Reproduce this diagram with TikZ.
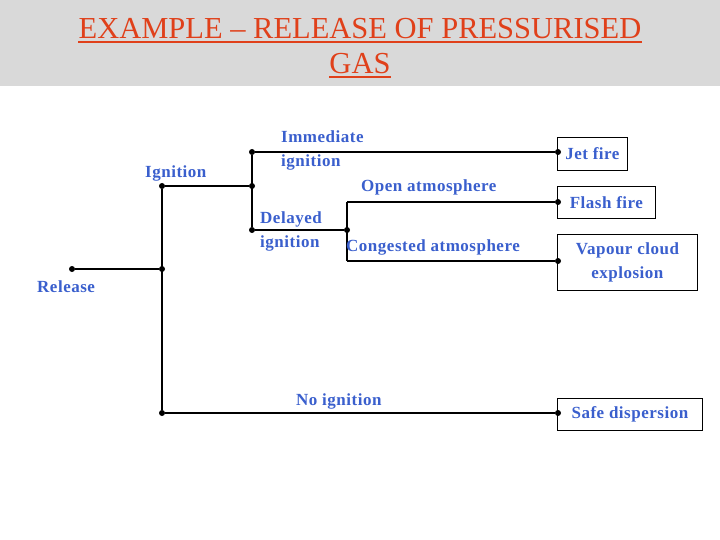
\documentclass[tikz,border=0pt]{standalone}
\usepackage{fontspec}
\setmainfont{Liberation Serif}[LetterSpace=3]
\definecolor{lab}{HTML}{3A5FCD}
\definecolor{ttl}{HTML}{E0401A}
\begin{document}
\begin{tikzpicture}[x=1pt,y=-1pt,
  ln/.style={line width=1.5pt},
  dot/.style={circle,fill=black,inner sep=0pt,minimum size=6pt},
  ttlsty/.style={text=ttl,font=\addfontfeature{LetterSpace=0}\fontsize{30.5}{35}\selectfont,inner sep=0pt,anchor=base},
  lbl/.style={text=lab,font=\fontsize{17}{24}\selectfont\bfseries,align=left,inner sep=0pt},
  ob/.style={draw,line width=0.8pt,text=lab,font=\fontsize{17}{24}\selectfont\bfseries,align=center,anchor=north west,inner sep=0pt}]
\useasboundingbox (0,0) rectangle (720,540);
\fill[gray!30] (0,0) rectangle (720,86);
\node[ttlsty] (t1) at (360,39) {EXAMPLE – RELEASE OF PRESSURISED};
\node[ttlsty] (t2) at (360,74) {GAS};
\draw[ttl,line width=1.2pt] ([yshift=-3pt]t1.base west) -- ([yshift=-3pt]t1.base east);
\draw[ttl,line width=1.2pt] ([yshift=-3pt]t2.base west) -- ([yshift=-3pt]t2.base east);
% boxes
\node[ob,minimum width=70pt,minimum height=33pt] (jet) at (557,137) {Jet fire};
\node[ob,minimum width=98pt,minimum height=32pt] (flash) at (557,186) {Flash fire};
\node[ob,minimum width=140pt,minimum height=56pt] (vce) at (557,234) {Vapour cloud\\explosion};
\node[ob,minimum width=145pt,minimum height=32pt] (safe) at (557,398) {Safe dispersion};
% dots
\node[dot] (rel) at (72,269) {};
\node[dot] (r2) at (162,269) {};
\node[dot] (ign) at (162,186) {};
\node[dot] (noi) at (162,413) {};
\node[dot] (ig2) at (252,186) {};
\node[dot] (imm) at (252,152) {};
\node[dot] (del) at (252,230) {};
\node[dot] (d2) at (347,230) {};
\coordinate (op) at (347,202);
\coordinate (co) at (347,261);
\node[dot] (ejet) at (558,152) {};
\node[dot] (efl) at (558,202) {};
\node[dot] (evc) at (558,261) {};
\node[dot] (esf) at (558,413) {};
% lines
\draw[ln] (rel) -- (r2);
\draw[ln] (ign) -- (noi);
\draw[ln] (ign) -- (ig2);
\draw[ln] (imm) -- (del);
\draw[ln] (imm) -- (ejet);
\draw[ln] (del) -- (d2);
\draw[ln] (op) -- (co);
\draw[ln] (op) -- (efl);
\draw[ln] (co) -- (evc);
\draw[ln] (noi) -- (esf);
% labels
\node[lbl,anchor=west] (lrel) at (37,287) {Release};
\node[lbl,anchor=west] (lign) at (145,173) {Ignition};
\node[lbl,anchor=west] (limm) at (281,150) {Immediate\\ignition};
\node[lbl,anchor=west] (lop) at (361,187) {Open atmosphere};
\node[lbl,anchor=west] (ldel) at (260,231) {Delayed\\ignition};
\node[lbl,anchor=west] (lco) at (346,247) {Congested atmosphere};
\node[lbl,anchor=west] (lno) at (296,401) {No ignition};
\end{tikzpicture}
\end{document}
